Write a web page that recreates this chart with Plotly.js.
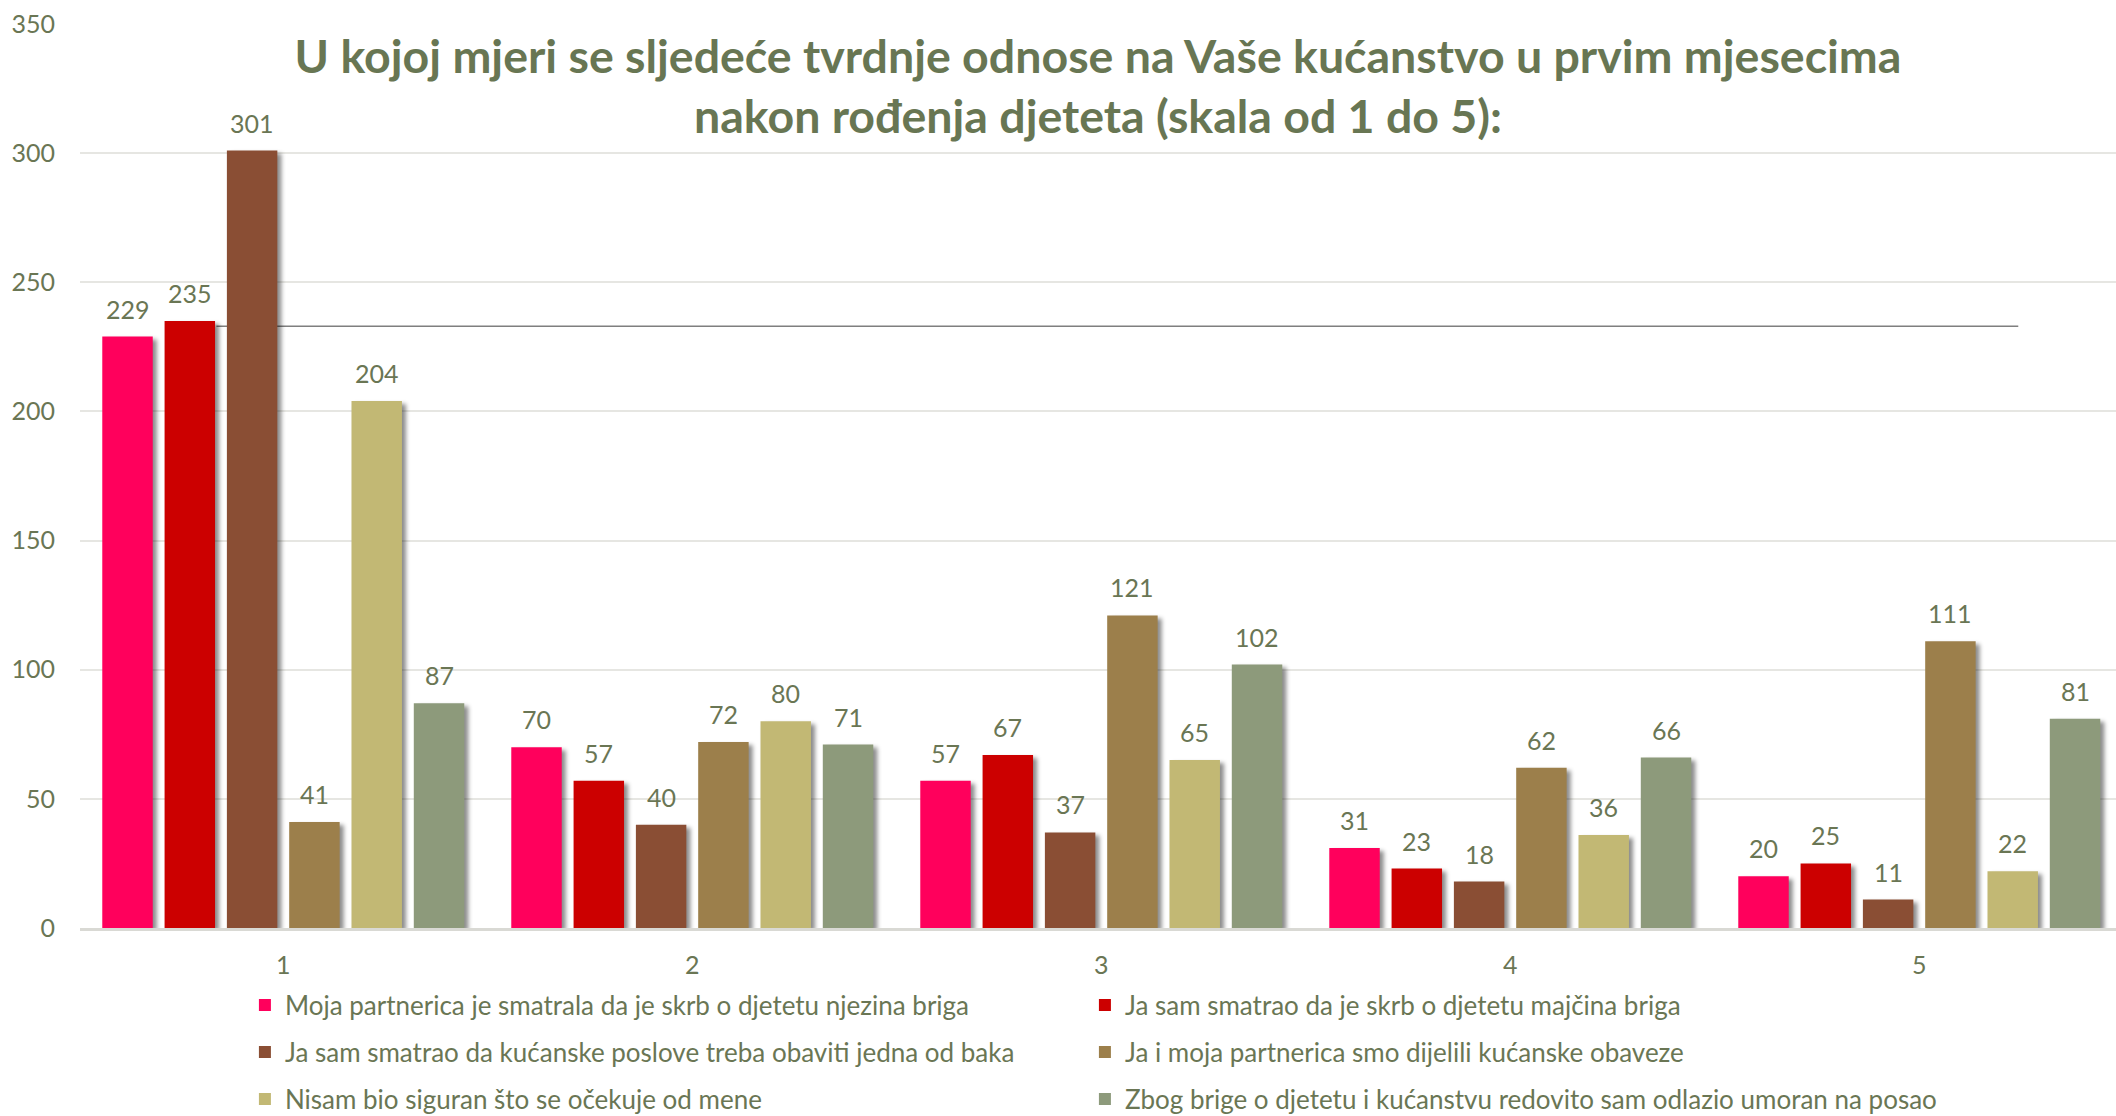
<!DOCTYPE html>
<html><head><meta charset="utf-8">
<script src="https://cdn.plot.ly/plotly-3.0.1.min.js"></script>
<style>
html,body{margin:0;padding:0;background:#fff;}
#chart{width:2116px;height:1116px;}
.bars .point path{filter: drop-shadow(4px 3px 2px rgba(0,0,0,0.45));}
</style></head><body><div id="chart"></div>
<script>
const categories = ['1', '2', '3', '4', '5'];
const seriesNames = [
  'Moja partnerica je smatrala da je skrb o djetetu njezina briga',
  'Ja sam smatrao da je skrb o djetetu majčina briga',
  'Ja sam smatrao da kućanske poslove treba obaviti jedna od baka',
  'Ja i moja partnerica smo dijelili kućanske obaveze',
  'Nisam bio siguran što se očekuje od mene',
  'Zbog brige o djetetu i kućanstvu redovito sam odlazio umoran na posao'
];
const partnerCare   = [229, 70, 57, 31, 20];
const motherCare    = [235, 57, 67, 23, 25];
const grandmaChores = [301, 40, 37, 18, 11];
const sharedChores  = [41, 72, 121, 62, 111];
const notSure       = [204, 80, 65, 36, 22];
const tiredAtWork   = [87, 71, 102, 66, 81];
const seriesValues = [partnerCare, motherCare, grandmaChores, sharedChores, notSure, tiredAtWork];
const yTicks = [0, 50, 100, 150, 200, 250, 300, 350];
const artifactLineValue = 233;

const colors = ['#FF005C', '#CC0000', '#8A4E34', '#9C7F4B', '#C2B874', '#8D9A7B'];
const textColor = '#6A7654';
const font = 'Lato, "Open Sans", sans-serif';
const bargap = 0.086;
const nSeries = seriesValues.length;
const slot = (1 - bargap) / nSeries;

const legendIds = ['legend', 'legend', 'legend2', 'legend2', 'legend3', 'legend3'];

const traces = seriesValues.map((vals, j) => ({
  type: 'bar',
  name: seriesNames[j],
  x: categories,
  y: vals,
  marker: {color: colors[j], line: {width: 0}},
  legend: legendIds[j],
  legendwidth: (j % 2 === 0) ? 795 : 900,
  hoverinfo: 'skip'
}));

const annotations = [];
seriesValues.forEach((vals, j) => {
  vals.forEach((v, i) => {
    annotations.push({
      x: i + (j - (nSeries - 1) / 2) * slot,
      y: v,
      xref: 'x', yref: 'y',
      text: String(v),
      showarrow: false,
      yanchor: 'bottom',
      yshift: 11,
      font: {family: font, size: 25, color: textColor}
    });
  });
});

const plotTop = 24, plotBottom = 928, plotH = plotBottom - plotTop;
const legendRows = [1005, 1052, 1099];
const legendBase = {
  orientation: 'h',
  x: 0.081,
  xanchor: 'left',
  yanchor: 'middle',
  entrywidth: 795,
  entrywidthmode: 'pixels',
  font: {family: font, size: 26, color: textColor},
  bgcolor: 'rgba(0,0,0,0)'
};

const layout = {
  width: 2116,
  height: 1116,
  margin: {l: 80, r: 0, t: plotTop, b: 1116 - plotBottom, autoexpand: false},
  paper_bgcolor: '#ffffff',
  plot_bgcolor: '#ffffff',
  barmode: 'group',
  bargap: bargap,
  bargroupgap: 0.19,
  title: {
    text: 'U kojoj mjeri se sljedeće tvrdnje odnose na Vaše kućanstvo u prvim mjesecima<br>nakon rođenja djeteta (skala od 1 do 5):',
    font: {family: font, size: 46.5, color: '#687653', weight: 'bold'},
    x: 0.5, xref: 'paper', xanchor: 'center',
    y: 1 - 73 / 1116, yref: 'container', yanchor: 'top'
  },
  xaxis: {
    type: 'category',
    range: [-0.497, 4.481],
    showgrid: false,
    showline: true,
    linecolor: '#D9D9D4',
    linewidth: 3,
    ticks: '',
    ticklabelstandoff: 13,
    tickfont: {family: font, size: 25, color: textColor},
    fixedrange: true
  },
  yaxis: {
    range: [0, 350],
    tickvals: yTicks,
    ticktext: yTicks.map(String),
    showgrid: true,
    gridcolor: '#E6E6E2',
    gridwidth: 2,
    zeroline: false,
    showline: false,
    ticks: '',
    ticklabelstandoff: 24,
    tickfont: {family: font, size: 25, color: textColor},
    fixedrange: true
  },
  shapes: [{
    type: 'line', xref: 'paper', yref: 'y',
    x0: 0.067, x1: 0.952, y0: artifactLineValue, y1: artifactLineValue,
    line: {color: '#7F7F7F', width: 1.5},
    layer: 'between'
  }],
  annotations: annotations,
  legend:  Object.assign({}, legendBase, {y: (plotBottom - legendRows[0]) / plotH}),
  legend2: Object.assign({}, legendBase, {y: (plotBottom - legendRows[1]) / plotH}),
  legend3: Object.assign({}, legendBase, {y: (plotBottom - legendRows[2]) / plotH}),
  showlegend: true
};

Plotly.newPlot('chart', traces, layout, {displayModeBar: false, staticPlot: true});
</script></body></html>
